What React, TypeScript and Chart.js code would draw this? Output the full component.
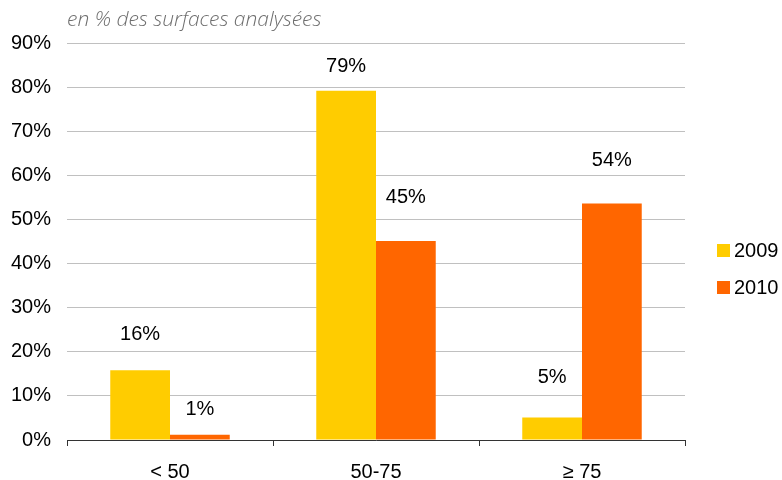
import React, { useEffect, useRef } from "react";
import { Chart, registerables } from "chart.js";

Chart.register(...registerables);

const categories = ["< 50", "50-75", "≥ 75"];
const series2009 = [15.8, 79.2, 5.1];
const series2010 = [1.2, 45.1, 53.6];
const labels2009 = ["16%", "79%", "5%"];
const labels2010 = ["1%", "45%", "54%"];
const labelGap2009 = [36, 24, 40];
const labelGap2010 = [25, 44, 43];
const seriesNames = ["2009", "2010"];
const colors = ["#FFCC00", "#FF6600"];
const subtitle = "en % des surfaces analysées";

const FONT = "'Liberation Sans', Arial, sans-serif";

export default function App() {
  const ref = useRef<HTMLCanvasElement | null>(null);
  useEffect(() => {
    document.body.style.margin = "0";
    const canvas = ref.current;
    if (!canvas) return;

    const overlay = {
      id: "overlay",
      afterDatasetsDraw(chart: any) {
        const ctx = chart.ctx;
        ctx.save();
        ctx.font = `20px ${FONT}`;
        ctx.fillStyle = "#000";
        ctx.textAlign = "center";
        ctx.textBaseline = "middle";
        const lbls = [labels2009, labels2010];
        const gaps = [labelGap2009, labelGap2010];
        chart.data.datasets.forEach((_: any, di: number) => {
          const meta = chart.getDatasetMeta(di);
          meta.data.forEach((el: any, i: number) => {
            ctx.fillText(lbls[di][i], el.x, el.y - gaps[di][i]);
          });
        });
        // subtitle
        ctx.font = `italic 300 21px 'Open Sans', sans-serif`;
        ctx.fillStyle = "#6e6e6e";
        ctx.textAlign = "left";
        ctx.textBaseline = "alphabetic";
        ctx.fillText(subtitle, chart.chartArea.left, 26);
        // legend
        const lx = chart.chartArea.right + 32;
        const ys = [250, 287];
        seriesNames.forEach((n, i) => {
          ctx.fillStyle = colors[i];
          ctx.fillRect(lx, ys[i] - 6, 13, 13);
          ctx.fillStyle = "#000";
          ctx.font = `20px ${FONT}`;
          ctx.textBaseline = "middle";
          ctx.fillText(n, lx + 17, ys[i] + 1);
        });
        ctx.restore();
      },
    };

    const chart = new Chart(canvas, {
      type: "bar",
      data: {
        labels: categories,
        datasets: [
          { label: seriesNames[0], data: series2009, backgroundColor: colors[0], categoryPercentage: 0.58, barPercentage: 1 },
          { label: seriesNames[1], data: series2010, backgroundColor: colors[1], categoryPercentage: 0.58, barPercentage: 1 },
        ],
      },
      options: {
        responsive: false,
        animation: false,
        layout: { padding: { top: 43, right: 97, left: 1, bottom: 0 } },
        plugins: { legend: { display: false }, tooltip: { enabled: false }, title: { display: false } },
        scales: {
          x: {
            afterFit: (s: any) => { s.height = 40; },
            grid: { offset: true, drawOnChartArea: false, drawTicks: true, tickLength: 6, color: "#333" },
            border: { display: true, color: "#333", width: 1 },
            ticks: { color: "#000", font: { family: FONT, size: 20 }, padding: 14 },
          },
          y: {
            min: 0,
            max: 90,
            afterFit: (s: any) => { s.width = 66; },
            grid: { color: "#c0c0c0", drawTicks: false, lineWidth: 1 },
            border: { display: false },
            ticks: {
              stepSize: 10,
              color: "#000",
              font: { family: FONT, size: 20 },
              padding: 16,
              callback: (v: any) => `${v}%`,
            },
          },
        },
      },
      plugins: [overlay],
    });
    return () => chart.destroy();
  }, []);
  return (
    <div style={{ width: 782, height: 480 }}>
      <canvas ref={ref} width={782} height={480} style={{ display: "block" }} />
    </div>
  );
}
